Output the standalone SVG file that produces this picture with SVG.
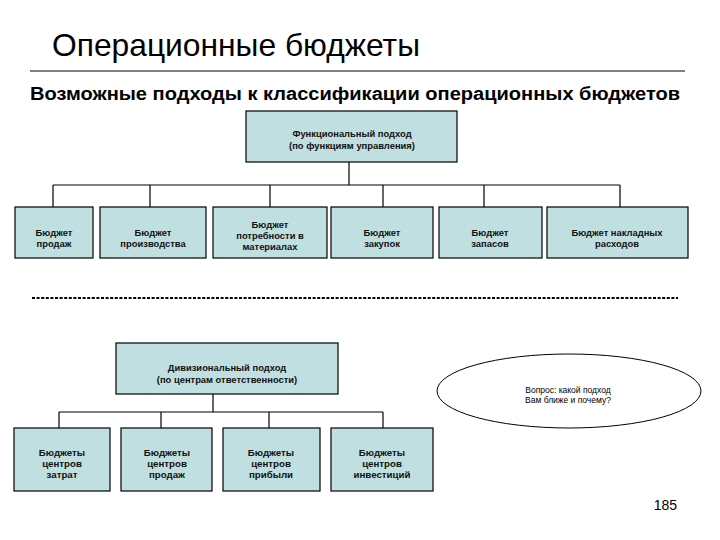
<svg xmlns="http://www.w3.org/2000/svg" width="720" height="540" viewBox="0 0 720 540">
<style>
.box{fill:#c0dfe0;stroke:#000;stroke-width:1.2}
.lbl{font-family:"Liberation Sans",Arial,sans-serif;font-size:9.4px;font-weight:bold;text-anchor:middle;fill:#111}
.lbl2{font-family:"Liberation Sans",Arial,sans-serif;font-size:9.7px;font-weight:bold;text-anchor:middle;fill:#111}
.conn line{stroke:#000;stroke-width:1.2}
</style>
<rect width="720" height="540" fill="#fff"/>
<text x="52" y="56" font-family="Liberation Sans,Arial,sans-serif" font-size="31.5" textLength="368" lengthAdjust="spacingAndGlyphs" fill="#000">Операционные бюджеты</text>
<line x1="30" y1="71" x2="685" y2="71" stroke="#000" stroke-width="1.2"/>
<text x="30" y="100" font-family="Liberation Sans,Arial,sans-serif" font-size="18" font-weight="bold" textLength="650" lengthAdjust="spacingAndGlyphs" fill="#000">Возможные подходы к классификации операционных бюджетов</text>

<g class="conn">
<line x1="349" y1="162" x2="349" y2="185"/>
<line x1="53" y1="185" x2="620" y2="185"/>
<line x1="53" y1="185" x2="53" y2="207"/>
<line x1="150" y1="185" x2="150" y2="207"/>
<line x1="270" y1="185" x2="270" y2="207"/>
<line x1="383" y1="185" x2="383" y2="207"/>
<line x1="484" y1="185" x2="484" y2="207"/>
<line x1="620" y1="185" x2="620" y2="207"/>
<line x1="213" y1="394" x2="213" y2="412"/>
<line x1="59" y1="412" x2="383" y2="412"/>
<line x1="59" y1="412" x2="59" y2="428"/>
<line x1="161" y1="412" x2="161" y2="428"/>
<line x1="269" y1="412" x2="269" y2="428"/>
<line x1="383" y1="412" x2="383" y2="428"/>
</g>

<g id="func">
<rect class="box" x="246" y="111" width="211" height="51"/>
<text class="lbl" x="352" y="137">Функциональный подход</text>
<text class="lbl" x="352" y="149">(по функциям управления)</text>
</g>
<g id="b1">
<rect class="box" x="15" y="207" width="78" height="51"/>
<text class="lbl" x="54" y="236">Бюджет</text>
<text class="lbl" x="54" y="247">продаж</text>
</g>
<g id="b2">
<rect class="box" x="100" y="207" width="106" height="51"/>
<text class="lbl" x="153" y="236">Бюджет</text>
<text class="lbl" x="153" y="247">производства</text>
</g>
<g id="b3">
<rect class="box" x="213" y="207" width="114" height="51"/>
<text class="lbl" x="270" y="228">Бюджет</text>
<text class="lbl" x="270" y="239">потребности в</text>
<text class="lbl" x="270" y="250">материалах</text>
</g>
<g id="b4">
<rect class="box" x="331" y="207" width="102" height="51"/>
<text class="lbl" x="382" y="236">Бюджет</text>
<text class="lbl" x="382" y="247">закупок</text>
</g>
<g id="b5">
<rect class="box" x="439" y="207" width="103" height="51"/>
<text class="lbl" x="490" y="236">Бюджет</text>
<text class="lbl" x="490" y="247">запасов</text>
</g>
<g id="b6">
<rect class="box" x="547" y="207" width="141" height="51"/>
<text class="lbl" x="617" y="236">Бюджет накладных</text>
<text class="lbl" x="617" y="247">расходов</text>
</g>

<line x1="32" y1="298" x2="678" y2="298" stroke="#000" stroke-width="2" stroke-dasharray="3 1.6"/>

<g id="div">
<rect class="box" x="116" y="343" width="222" height="51"/>
<text class="lbl" x="227" y="371">Дивизиональный подход</text>
<text class="lbl" x="227" y="383">(по центрам ответственности)</text>
</g>
<g id="c1">
<rect class="box" x="14" y="428" width="96" height="63"/>
<text class="lbl2" x="62" y="456">Бюджеты</text>
<text class="lbl2" x="62" y="467">центров</text>
<text class="lbl2" x="62" y="478">затрат</text>
</g>
<g id="c2">
<rect class="box" x="121" y="428" width="91" height="63"/>
<text class="lbl2" x="167" y="456">Бюджеты</text>
<text class="lbl2" x="167" y="467">центров</text>
<text class="lbl2" x="167" y="478">продаж</text>
</g>
<g id="c3">
<rect class="box" x="223" y="428" width="97" height="63"/>
<text class="lbl2" x="271" y="456">Бюджеты</text>
<text class="lbl2" x="271" y="467">центров</text>
<text class="lbl2" x="271" y="478">прибыли</text>
</g>
<g id="c4">
<rect class="box" x="331" y="428" width="102" height="63"/>
<text class="lbl2" x="382" y="456">Бюджеты</text>
<text class="lbl2" x="382" y="467">центров</text>
<text class="lbl2" x="382" y="478">инвестиций</text>
</g>

<g id="question">
<ellipse cx="569" cy="391" rx="132" ry="37" fill="#fff" stroke="#000" stroke-width="1"/>
<text x="568" y="393" font-family="Liberation Sans,Arial,sans-serif" font-size="8.5" text-anchor="middle" fill="#000">Вопрос: какой подход</text>
<text x="568" y="403" font-family="Liberation Sans,Arial,sans-serif" font-size="8.5" text-anchor="middle" fill="#000">Вам ближе и почему?</text>
</g>

<text x="677" y="510" font-family="Liberation Sans,Arial,sans-serif" font-size="14" text-anchor="end" fill="#000">185</text>
</svg>
